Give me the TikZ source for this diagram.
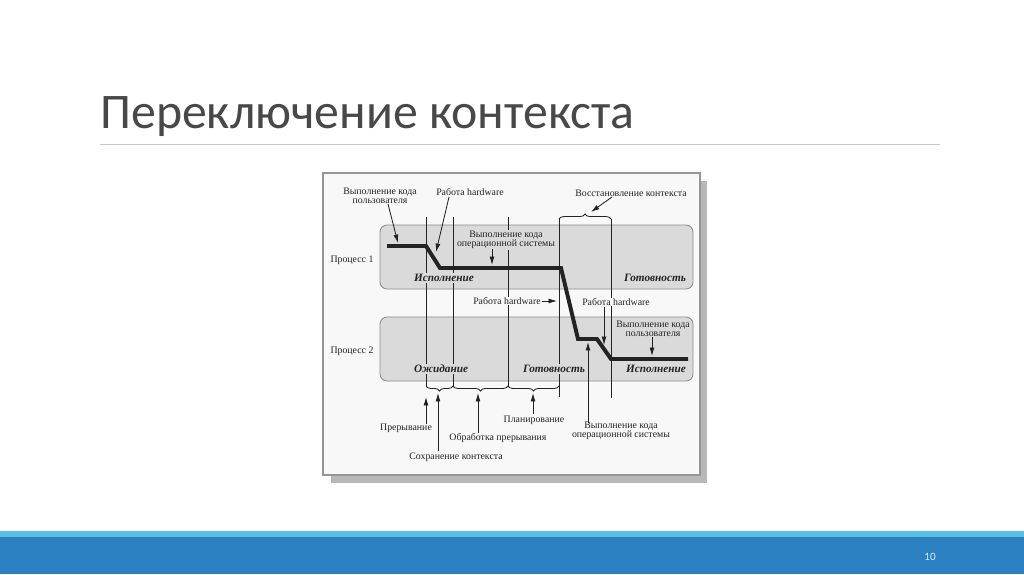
\documentclass[tikz,border=0pt]{standalone}
\usepackage{fontspec}
\setmainfont{Liberation Serif}
\newfontfamily\titlefont{Carlito}
\usetikzlibrary{arrows.meta, decorations.pathreplacing, positioning, calc}
\definecolor{titlegray}{RGB}{72, 72, 72}
\definecolor{rulegray}{RGB}{200, 200, 200}
\definecolor{barlight}{RGB}{90, 190, 230}
\definecolor{barblue}{RGB}{42, 128, 192}
\definecolor{framegray}{RGB}{150, 150, 150}
\definecolor{framefill}{RGB}{248, 248, 248}
\definecolor{shadowgray}{RGB}{184, 184, 184}
\definecolor{bandfill}{RGB}{218, 218, 218}
\definecolor{bandedge}{RGB}{140, 140, 140}
\definecolor{ink}{RGB}{35, 35, 35}
\tikzstyle{band} = [draw=bandedge, fill=bandfill, rounded corners=5pt, line width=0.6pt]
\tikzstyle{lbl} = [font=\fontsize{7}{6.6}\selectfont, text=ink, align=center, inner sep=0.5pt]
\tikzstyle{state} = [font=\fontsize{8}{9}\selectfont\bfseries\itshape, text=ink, fill=bandfill, inner sep=1pt]
\tikzstyle{arrow} = [-{Latex[length=6pt,width=3.5pt]}, line width=0.6pt, draw=ink]
\tikzstyle{marker} = [line width=0.6pt, draw=ink]
\tikzstyle{trace} = [line width=2.8pt, draw=ink]
\tikzstyle{brc} = [decorate, decoration={brace, amplitude=3.5pt}, line width=0.6pt, draw=ink]

\begin{document}
\begin{tikzpicture}[x=0.025cm, y=-0.025cm]
    \useasboundingbox (0,0) rectangle (1024,574);
    \fill[white] (0,0) rectangle (1024,574);

    % Slide title
    \node[anchor=base west, inner sep=0, text=titlegray, font=\titlefont\fontsize{35.4}{40}\selectfont] (title) at (100,128) {Переключение контекста};
    \draw[rulegray, line width=0.7pt] (100,144) -- (940,144);

    % Footer bar
    \fill[barlight] (0,531) rectangle (1024,537);
    \fill[barblue] (0,537) rectangle (1024,574);
    \node[text=white!85!barblue, font=\titlefont\fontsize{8}{9}\selectfont] (pageno) at (930,557) {10};

    % Frame with shadow
    \fill[shadowgray] (331,181) rectangle (707,483);
    \draw[framegray, fill=framefill, line width=1.2pt] (323,173) rectangle (700,475);

    % Process bands
    \draw[band] (380,225) rectangle (693,289);
    \draw[band] (380,317) rectangle (693,381);
    \node[lbl] (proc1) at (352,260) {Процесс 1};
    \node[lbl] (proc2) at (352,351) {Процесс 2};

    % Event markers
    \coordinate (m1t) at (426,217); \coordinate (m1b) at (426,387);
    \coordinate (m2t) at (453,217); \coordinate (m2b) at (453,387);
    \coordinate (m3t) at (508,217); \coordinate (m3b) at (508,387);
    \coordinate (m4t) at (559,219); \coordinate (m4b) at (559,397);
    \coordinate (m5t) at (611,219); \coordinate (m5b) at (611,398);
    \draw[marker] (m1t) -- (m1b);
    \draw[marker] (m2t) -- (m2b);
    \draw[marker] (m3t) -- (m3b);
    \draw[marker] (m4t) -- (m4b);
    \draw[marker] (m5t) -- (m5b);

    % Braces
    \draw[brc] (m4t) -- (m5t);
    \draw[brc, decoration={mirror}] (426,386) -- (453,386);
    \draw[brc, decoration={mirror}] (453,386) -- (508,386);
    \draw[brc, decoration={mirror}] (508,386) -- (559,386);

    % Execution trace
    \draw[trace] (387,246) -- (426,246) -- (440,268) -- (561,268) -- (578,339) -- (597,339) -- (611,359) -- (688,359);

    % States
    \node[state] (run1) at (444,278) {Исполнение};
    \node[state] (rdy1) at (655,278) {Готовность};
    \node[state] (wait2) at (441,369) {Ожидание};
    \node[state] (rdy2) at (554,369) {Готовность};
    \node[state] (run2) at (656,369) {Исполнение};

    % Upper labels
    \node[lbl] (ucl) at (380,196) {Выполнение кода\\пользователя};
    \node[lbl] (hwl) at (470,192) {Работа hardware};
    \node[lbl, fill=bandfill] (osl) at (506,240) {Выполнение кода\\операционной системы};
    \node[lbl] (rstl) at (631,193) {Восстановление контекста};
    \node[lbl, fill=framefill] (hwm) at (507,301) {Работа hardware};
    \node[lbl, fill=framefill] (hwr) at (616,302) {Работа hardware};
    \node[lbl, fill=bandfill] (ucr) at (653,329) {Выполнение кода\\пользователя};

    \coordinate (uc1) at (398,243);
    \coordinate (hw1) at (436,252);
    \coordinate (os1) at (492,265);
    \coordinate (rs1) at (591,212);
    \coordinate (hw2) at (557,301);
    \coordinate (hw3) at (604,345);
    \coordinate (uc2) at (652,356);
    \draw[arrow] (388,204) -- (uc1);
    \draw[arrow] (449,197) -- (hw1);
    \draw[arrow] (492,249) -- (os1);
    \draw[arrow] (612,197) -- (rs1);
    \draw[arrow] (hwm.east) -- (hw2);
    \draw[arrow] (604,307) -- (hw3);
    \draw[arrow] (652,337) -- (uc2);

    % Lower labels
    \node[lbl] (intl) at (406,428) {Прерывание};
    \node[lbl] (savel) at (456,457) {Сохранение контекста};
    \node[lbl] (hndl) at (498,438) {Обработка прерывания};
    \node[lbl] (schl) at (534,420) {Планирование};
    \node[lbl] (osl2) at (621,431) {Выполнение кода\\операционной системы};

    \coordinate (int1) at (426,397);
    \coordinate (sav1) at (438,393);
    \coordinate (hnd1) at (478,393);
    \coordinate (sch1) at (533,393);
    \coordinate (os2) at (588,342);
    \draw[arrow] (426,424) -- (int1);
    \draw[arrow] (438,451) -- (sav1);
    \draw[arrow] (478,433) -- (hnd1);
    \draw[arrow] (533,414) -- (sch1);
    \draw[arrow] (588,423) -- (os2);
\end{tikzpicture}
\end{document}
